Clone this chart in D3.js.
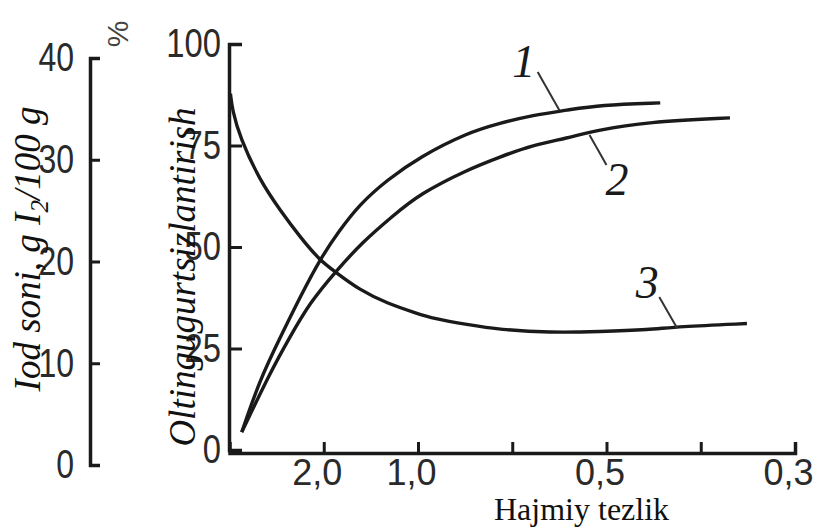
<!DOCTYPE html>
<html>
<head>
<meta charset="utf-8">
<script src="https://cdn.jsdelivr.net/npm/d3@7"></script>
<style>
  html, body { margin: 0; padding: 0; background: #fff; }
  svg { display: block; }
</style>
</head>
<body>
<svg id="chart" width="816" height="527"></svg>
<script>
// ---------- DATA ----------
const xTickValues = [1, 2, 3, 4, 5, 6];
const xTickLabels = ["2,0", "1,0", "", "0,5", "", "0,3"];
const leftTicks = [0, 10, 20, 30, 40];
const midTicks = [0, 25, 50, 75, 100];

// curve 1 (desulfurization, %)
const pos1 = [0.13, 0.32, 0.54, 0.75, 0.96, 1.17, 1.38, 1.67, 2.02, 2.52, 2.87, 3.22, 3.58, 3.93, 4.57];
const sulf1 = [4.4, 17.2, 27.8, 37.7, 47.0, 54.2, 60.5, 66.5, 72.2, 78.1, 80.5, 82.5, 83.7, 85.0, 85.5];

// curve 2 (desulfurization, %)
const pos2 = [0.13, 0.43, 0.64, 0.85, 1.12, 1.41, 1.73, 2.02, 2.52, 2.87, 3.22, 3.58, 3.90, 4.43, 5.31];
const sulf2 = [4.4, 19.0, 27.8, 36.2, 43.8, 51.2, 57.6, 63.1, 69.0, 72.2, 75.1, 76.8, 78.8, 80.8, 81.8];

// curve 3 (iodine number, g I2/100 g)
const pos3 = [0.01, 0.03, 0.11, 0.32, 0.54, 0.75, 0.96, 1.12, 1.38, 1.67, 1.99, 2.16, 2.52, 2.87, 3.40, 3.93, 4.46, 4.75, 5.49];
const iod3 = [36.5, 34.9, 32.2, 28.0, 25.0, 22.4, 20.1, 19.0, 17.2, 15.9, 14.9, 14.4, 13.8, 13.3, 13.0, 13.1, 13.3, 13.6, 13.9];

// curve labels (in x-position / % units)
const labelNames = ["1", "2", "3"];
const labelX = [3.00, 3.99, 4.31];
const labelY = [91.9, 62.8, 37.4];
const leaderX1 = [3.27, 3.82, 4.56];
const leaderY1 = [93.1, 77.6, 37.7];
const leaderX2 = [3.50, 4.00, 4.75];
const leaderY2 = [83.7, 70.2, 30.0];

// ---------- DRAW ----------
const svg = d3.select("#chart");
const ink = "#1a1a1a";

const x = d3.scaleLinear().domain([0, 6]).range([229.5, 795]);
const yMid = d3.scaleLinear().domain([0, 100]).range([450, 44]);
const yLeft = d3.scaleLinear().domain([0, 40]).range([465, 58]);

const tickFont = "'Liberation Sans', Arial, sans-serif";
const serif = "'Liberation Serif', 'Times New Roman', serif";

function styleAxis(g, size) {
  g.select(".domain").attr("stroke", ink).attr("stroke-width", 3.5);
  g.selectAll(".tick line").attr("stroke", ink).attr("stroke-width", 3);
  g.selectAll(".tick text")
    .attr("fill", "#2a2a2a")
    .style("font-family", tickFont)
    .style("font-size", size + "px");
}

// left axis (iodine number)
const gLeft = svg.append("g").attr("transform", "translate(90,0)")
  .call(d3.axisLeft(yLeft).tickValues(leftTicks).tickSize(-10).tickPadding(16).tickFormat(d3.format("d")));
styleAxis(gLeft, 40);
gLeft.selectAll(".tick text").attr("transform", "scale(0.8,1)").attr("x", -16 / 0.8);

// middle axis (desulfurization)
const gMid = svg.append("g").attr("transform", "translate(229,0)")
  .call(d3.axisLeft(yMid).tickValues(midTicks).tickSize(-13).tickPadding(8).tickFormat(d3.format("d")));
styleAxis(gMid, 40);
gMid.selectAll(".tick text").attr("transform", "scale(0.82,1)").attr("x", -8 / 0.82);

// bottom axis
const gBot = svg.append("g").attr("transform", "translate(0,453)")
  .call(d3.axisBottom(x).tickValues(xTickValues).tickSize(-11).tickPadding(6)
    .tickFormat((d, i) => xTickLabels[i]));
styleAxis(gBot, 36);
gBot.selectAll(".tick text").attr("transform", "translate(-7,0) scale(1,1)");

// curves
const lineMid = d3.line().x(d => x(d[0])).y(d => yMid(d[1])).curve(d3.curveBasis);
const lineLeft = d3.line().x(d => x(d[0])).y(d => yLeft(d[1])).curve(d3.curveBasis);

svg.append("path").datum(d3.zip(pos1, sulf1)).attr("d", lineMid)
  .attr("fill", "none").attr("stroke", ink).attr("stroke-width", 3.4);
svg.append("path").datum(d3.zip(pos2, sulf2)).attr("d", lineMid)
  .attr("fill", "none").attr("stroke", ink).attr("stroke-width", 3.4);
svg.append("path").datum(d3.zip(pos3, iod3)).attr("d", lineLeft)
  .attr("fill", "none").attr("stroke", ink).attr("stroke-width", 3.4);

// curve labels + leaders
labelNames.forEach((name, i) => {
  svg.append("line")
    .attr("x1", x(leaderX1[i])).attr("y1", yMid(leaderY1[i]))
    .attr("x2", x(leaderX2[i])).attr("y2", yMid(leaderY2[i]))
    .attr("stroke", "#333").attr("stroke-width", 2);
  svg.append("text")
    .attr("x", x(labelX[i])).attr("y", yMid(labelY[i]))
    .attr("fill", ink)
    .style("font-family", serif).style("font-style", "italic")
    .style("font-size", "46px")
    .text(name);
});

// axis titles
const leftTitle = svg.append("text")
  .attr("transform", "translate(40,249) rotate(-90)")
  .attr("text-anchor", "middle")
  .attr("fill", "#111")
  .style("font-family", serif).style("font-style", "italic").style("font-size", "37px");
leftTitle.append("tspan").text("Iod soni, g I");
leftTitle.append("tspan").attr("dy", 8).style("font-size", "25px").text("2");
leftTitle.append("tspan").attr("dy", -8).text("/100 g");

svg.append("text")
  .attr("transform", "translate(195,277) rotate(-90)")
  .attr("text-anchor", "middle")
  .attr("fill", "#111")
  .style("font-family", serif).style("font-style", "italic").style("font-size", "37px")
  .text("Oltingugurtsizlantirish");

svg.append("text")
  .attr("x", 494).attr("y", 520)
  .attr("fill", "#111")
  .style("font-family", serif).style("font-size", "32px")
  .text("Hajmiy tezlik");

svg.append("text")
  .attr("transform", "translate(117,34) rotate(-90)")
  .attr("text-anchor", "middle")
  .attr("dominant-baseline", "central")
  .attr("fill", "#444")
  .style("font-family", tickFont).style("font-size", "30px")
  .text("%");
</script>
</body>
</html>
